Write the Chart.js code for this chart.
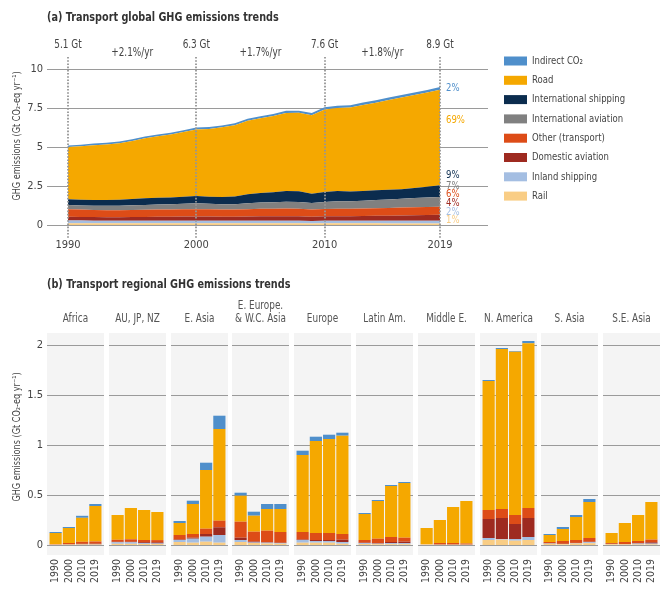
<!DOCTYPE html>
<html>
<head>
<meta charset="utf-8">
<script src="https://cdn.jsdelivr.net/npm/chart.js@4.4.1/dist/chart.umd.min.js"></script>
<style>
  body { margin: 0; background: #fff; }
  #wrap { position: relative; width: 671px; height: 594px; overflow: hidden; }
  #wrap canvas { position: absolute; }
</style>
</head>
<body>
<div id="wrap"></div>
<script>
// ---------- (a) global trends, Gt CO2-eq per year ----------
const years = [1990, 1991, 1992, 1993, 1994, 1995, 1996, 1997, 1998, 1999,
  2000, 2001, 2002, 2003, 2004, 2005, 2006, 2007, 2008, 2009,
  2010, 2011, 2012, 2013, 2014, 2015, 2016, 2017, 2018, 2019];

const rail = [0.12, 0.12, 0.12, 0.11, 0.11, 0.11, 0.11, 0.11, 0.11, 0.11,
  0.11, 0.11, 0.11, 0.11, 0.11, 0.11, 0.11, 0.11, 0.11, 0.10,
  0.11, 0.11, 0.11, 0.11, 0.11, 0.10, 0.10, 0.10, 0.10, 0.10];
const inlandShipping = [0.17, 0.17, 0.16, 0.16, 0.16, 0.16, 0.16, 0.16, 0.16, 0.16,
  0.16, 0.16, 0.16, 0.16, 0.17, 0.17, 0.17, 0.17, 0.17, 0.16,
  0.17, 0.17, 0.17, 0.17, 0.17, 0.18, 0.18, 0.18, 0.18, 0.18];
const domesticAviation = [0.24, 0.23, 0.23, 0.23, 0.23, 0.24, 0.25, 0.26, 0.26, 0.27,
  0.28, 0.27, 0.26, 0.26, 0.27, 0.28, 0.28, 0.29, 0.28, 0.27,
  0.28, 0.29, 0.29, 0.30, 0.31, 0.32, 0.34, 0.35, 0.37, 0.38];
const otherTransport = [0.48, 0.47, 0.46, 0.45, 0.45, 0.46, 0.46, 0.47, 0.47, 0.47,
  0.47, 0.47, 0.46, 0.46, 0.47, 0.48, 0.48, 0.49, 0.48, 0.46,
  0.47, 0.48, 0.48, 0.48, 0.49, 0.50, 0.50, 0.51, 0.51, 0.52];
const intlAviation = [0.28, 0.27, 0.27, 0.28, 0.29, 0.30, 0.31, 0.32, 0.33, 0.35,
  0.37, 0.35, 0.34, 0.35, 0.38, 0.40, 0.42, 0.44, 0.44, 0.42,
  0.45, 0.47, 0.48, 0.50, 0.52, 0.54, 0.56, 0.59, 0.61, 0.62];
const intlShipping = [0.36, 0.36, 0.36, 0.37, 0.38, 0.40, 0.42, 0.43, 0.44, 0.45,
  0.47, 0.46, 0.47, 0.49, 0.58, 0.62, 0.64, 0.68, 0.68, 0.59,
  0.64, 0.66, 0.62, 0.62, 0.63, 0.63, 0.62, 0.64, 0.69, 0.75];
const road = [3.35, 3.43, 3.52, 3.57, 3.63, 3.72, 3.86, 3.94, 4.04, 4.15,
  4.27, 4.34, 4.46, 4.57, 4.71, 4.79, 4.89, 5.00, 5.03, 5.04,
  5.29, 5.32, 5.38, 5.52, 5.61, 5.75, 5.87, 5.96, 6.03, 6.12];
const indirectCO2 = [0.10, 0.10, 0.10, 0.10, 0.10, 0.11, 0.11, 0.11, 0.11, 0.12,
  0.12, 0.12, 0.12, 0.12, 0.13, 0.13, 0.13, 0.14, 0.14, 0.14,
  0.14, 0.15, 0.15, 0.15, 0.16, 0.16, 0.16, 0.17, 0.17, 0.18];

const markYears = [1990, 2000, 2010, 2019];
const totalLabels = ['5.1 Gt', '6.3 Gt', '7.6 Gt', '8.9 Gt'];
const rateLabels = ['+2.1%/yr', '+1.7%/yr', '+1.8%/yr'];
const yTicksA = [0, 2.5, 5, 7.5, 10];
// shares in 2019, top to bottom, and where they sit on the value axis
const shareLabels = ['2%', '69%', '9%', '7%', '6%', '4%', '2%', '1%'];
const shareAt = [8.78, 6.73, 3.21, 2.50, 1.99, 1.41, 0.83, 0.32];

// ---------- (b) regional trends ----------
const regions = [['Africa'], ['AU, JP, NZ'], ['E. Asia'], ['E. Europe.', '& W.C. Asia'], ['Europe'],
  ['Latin Am.'], ['Middle E.'], ['N. America'], ['S. Asia'], ['S.E. Asia']];
const regYears = ['1990', '2000', '2010', '2019'];
const yTicksB = [0, 0.5, 1, 1.5, 2];

// one row per region: 1990, 2000, 2010, 2019
const regRail = [
  [0.005, 0.005, 0.005, 0.005], [0.012, 0.012, 0.010, 0.010], [0.030, 0.023, 0.033, 0.023],
  [0.030, 0.020, 0.015, 0.013], [0.023, 0.023, 0.023, 0.013], [0.010, 0.008, 0.008, 0.008],
  [0.008, 0.003, 0.003, 0.003], [0.050, 0.053, 0.043, 0.050], [0.012, 0.008, 0.015, 0.018],
  [0.008, 0.006, 0.006, 0.006]];
const regInland = [
  [0.000, 0.000, 0.002, 0.002], [0.015, 0.015, 0.008, 0.005], [0.020, 0.040, 0.050, 0.077],
  [0.020, 0.005, 0.008, 0.006], [0.027, 0.017, 0.017, 0.017], [0.008, 0.005, 0.010, 0.010],
  [0.000, 0.000, 0.000, 0.000], [0.020, 0.007, 0.017, 0.030], [0.003, 0.002, 0.003, 0.010],
  [0.002, 0.002, 0.008, 0.008]];
const regDomAviation = [
  [0.000, 0.003, 0.005, 0.006], [0.005, 0.005, 0.010, 0.012], [0.005, 0.010, 0.027, 0.077],
  [0.023, 0.010, 0.004, 0.004], [0.005, 0.010, 0.010, 0.023], [0.005, 0.004, 0.012, 0.015],
  [0.000, 0.002, 0.002, 0.002], [0.190, 0.210, 0.150, 0.190], [0.003, 0.002, 0.003, 0.005],
  [0.002, 0.002, 0.004, 0.013]];
const regOther = [
  [0.005, 0.012, 0.020, 0.022], [0.020, 0.025, 0.022, 0.022], [0.045, 0.037, 0.053, 0.066],
  [0.160, 0.098, 0.116, 0.107], [0.075, 0.070, 0.070, 0.057], [0.027, 0.046, 0.050, 0.040],
  [0.002, 0.015, 0.015, 0.010], [0.090, 0.090, 0.090, 0.100], [0.012, 0.028, 0.029, 0.037],
  [0.008, 0.020, 0.022, 0.027]];
const regRoad = [
  [0.110, 0.150, 0.240, 0.355], [0.248, 0.313, 0.300, 0.281], [0.120, 0.300, 0.587, 0.917],
  [0.260, 0.160, 0.217, 0.230], [0.770, 0.920, 0.940, 0.983], [0.260, 0.377, 0.510, 0.547],
  [0.160, 0.230, 0.360, 0.425], [1.290, 1.600, 1.633, 1.647], [0.070, 0.120, 0.230, 0.360],
  [0.100, 0.190, 0.260, 0.376]];
const regIndirect = [
  [0.010, 0.010, 0.020, 0.020], [0.000, 0.000, 0.000, 0.000], [0.020, 0.033, 0.073, 0.133],
  [0.030, 0.040, 0.050, 0.050], [0.043, 0.043, 0.043, 0.030], [0.010, 0.010, 0.010, 0.010],
  [0.000, 0.000, 0.000, 0.000], [0.010, 0.010, 0.007, 0.023], [0.010, 0.020, 0.020, 0.030],
  [0.000, 0.000, 0.000, 0.000]];

// ---------- styling ----------
const FONT = "'Liberation Sans Narrow', 'DejaVu Sans Condensed', 'Roboto Condensed', sans-serif";
const TXT = '#444';
const SQUEEZE = 0.86; // the original uses a condensed face
const colors = {
  indirect: '#4f8fcb', road: '#f5a800', ship: '#0b2c4e', intlAv: '#808080',
  other: '#dd4c17', domAv: '#9e2a20', inland: '#a4bee2', rail: '#f9cd85'
};
Chart.defaults.font.family = FONT;
Chart.defaults.color = TXT;

const wrap = document.getElementById('wrap');

function addCanvas(left, top, width, height) {
  const c = document.createElement('canvas');
  c.width = width;
  c.height = height;
  c.style.left = left + 'px';
  c.style.top = top + 'px';
  wrap.appendChild(c);
  return c;
}

function text(ctx, str, x, y, size, color, align, weight) {
  ctx.save();
  ctx.translate(x, y);
  ctx.scale(SQUEEZE, 1);
  ctx.font = (weight || 'normal') + ' ' + size + 'px ' + FONT;
  ctx.fillStyle = color;
  ctx.textAlign = align || 'center';
  ctx.textBaseline = 'middle';
  ctx.fillText(str, 0, 0);
  ctx.restore();
}

function yTitle(ctx, x, y) {
  ctx.save();
  ctx.translate(x, y);
  ctx.rotate(-Math.PI / 2);
  text(ctx, 'GHG emissions (Gt CO\u2082-eq yr\u207B\u00B9)', 0, 0, 10.5, TXT);
  ctx.restore();
}

// stacked bottom -> top
const globalSeries = [
  ['Rail', rail, colors.rail],
  ['Inland shipping', inlandShipping, colors.inland],
  ['Domestic aviation', domesticAviation, colors.domAv],
  ['Other (transport)', otherTransport, colors.other],
  ['International aviation', intlAviation, colors.intlAv],
  ['International shipping', intlShipping, colors.ship],
  ['Road', road, colors.road],
  ['Indirect CO\u2082', indirectCO2, colors.indirect]
];

const topDecor = {
  id: 'topDecor',
  afterDatasetsDraw(chart) {
    const { ctx, chartArea: a, scales: { x, y } } = chart;
    ctx.save();
    // dotted year markers
    ctx.strokeStyle = '#959595';
    ctx.lineWidth = 1.8;
    ctx.setLineDash([1.6, 1.6]);
    markYears.forEach(yr => {
      const px = Math.round(x.getPixelForValue(yr));
      ctx.beginPath();
      ctx.moveTo(px, a.top);
      ctx.lineTo(px, a.bottom);
      ctx.stroke();
    });
    ctx.setLineDash([]);

    markYears.forEach((yr, i) => text(ctx, totalLabels[i], x.getPixelForValue(yr), 45, 11.5, TXT));
    rateLabels.forEach((lab, i) => {
      const mid = (x.getPixelForValue(markYears[i]) + x.getPixelForValue(markYears[i + 1])) / 2;
      text(ctx, lab, mid, 53, 11.5, TXT);
    });

    // 2019 shares
    const shareColors = globalSeries.map(s => s[2]).reverse();
    shareLabels.forEach((lab, i) => {
      text(ctx, lab, x.getPixelForValue(2019) + 6, y.getPixelForValue(shareAt[i]), 11, shareColors[i], 'left');
    });

    // legend, top to bottom
    const items = chart.data.datasets.slice().reverse();
    items.forEach((ds, i) => {
      const cy = 61 + i * 19.3;
      ctx.fillStyle = ds.backgroundColor;
      ctx.fillRect(504, cy - 4.5, 23, 9);
      text(ctx, ds.label, 532, cy, 11, TXT, 'left');
    });

    text(ctx, '(a) Transport global GHG emissions trends', 47, 18, 12.5, '#333', 'left', 'bold');
    text(ctx, '(b) Transport regional GHG emissions trends', 47, 285, 12.5, '#333', 'left', 'bold');
    yTitle(ctx, 17, 136);
    ctx.restore();
  }
};

const topCanvas = addCanvas(0, 0, 671, 295);
new Chart(topCanvas, {
  type: 'line',
  data: {
    datasets: globalSeries.map(([label, vals, color], i) => ({
      label,
      data: vals.map((v, k) => ({ x: years[k], y: v })),
      backgroundColor: color,
      borderColor: 'transparent',
      borderWidth: 0,
      pointRadius: 0,
      tension: 0,
      fill: i === 0 ? 'origin' : '-1'
    }))
  },
  options: {
    responsive: false,
    animation: false,
    layout: { autoPadding: false, padding: { top: 57, right: 183, left: 0, bottom: 0 } },
    plugins: { legend: { display: false }, tooltip: { enabled: false } },
    scales: {
      x: {
        type: 'linear', min: 1988.36, max: 2022.74,
        grid: { display: false, drawTicks: false },
        border: { display: false },
        afterBuildTicks: s => { s.ticks = markYears.map(v => ({ value: v })); },
        ticks: { callback: v => String(v), font: { size: 11 }, color: TXT, padding: 1, maxRotation: 0, autoSkip: false },
        afterFit: s => { s.height = 295 - 238; }
      },
      y: {
        stacked: true, min: -0.83, max: 10.77,
        grid: { color: '#9a9a9a', lineWidth: 1, drawTicks: false },
        border: { display: false },
        afterBuildTicks: s => { s.ticks = yTicksA.map(v => ({ value: v })); },
        ticks: { callback: v => String(v), font: { size: 11 }, color: TXT, padding: 4 },
        afterFit: s => { s.width = 47; }
      }
    }
  },
  plugins: [topDecor]
});

// ---------- regional small multiples ----------
const regSeries = [
  ['Rail', regRail, colors.rail],
  ['Inland shipping', regInland, colors.inland],
  ['Domestic aviation', regDomAviation, colors.domAv],
  ['Other (transport)', regOther, colors.other],
  ['Road', regRoad, colors.road],
  ['Indirect CO\u2082', regIndirect, colors.indirect]
];

function panelDecor(name, first) {
  return {
    id: 'panelDecor',
    beforeDatasetsDraw(chart) {
      const { ctx, chartArea: a, scales: { y } } = chart;
      ctx.save();
      ctx.fillStyle = '#f4f4f4';
      ctx.fillRect(a.left - 2, a.top, a.right - a.left + 4, a.bottom - a.top);
      ctx.strokeStyle = '#9a9a9a';
      ctx.lineWidth = 1;
      yTicksB.forEach(v => {
        const py = Math.round(y.getPixelForValue(v)) + 0.5;
        ctx.beginPath();
        ctx.moveTo(a.left - 2, py);
        ctx.lineTo(a.right + 2, py);
        ctx.stroke();
      });
      ctx.restore();
    },
    afterDraw(chart) {
      const { ctx, chartArea: a } = chart;
      const cx = (a.left + a.right) / 2;
      ctx.save();
      if (name.length === 2) {
        text(ctx, name[0], cx, 11, 11.5, '#555');
        text(ctx, name[1], cx, 24, 11.5, '#555');
      } else {
        text(ctx, name[0], cx, 24, 11.5, '#555');
      }
      if (first) yTitle(ctx, 17, 142);
      ctx.restore();
    }
  };
}

regions.forEach((name, r) => {
  const first = r === 0;
  const left = Math.round(47 + r * 61.8);
  const cv = addCanvas(first ? 0 : left, 295, first ? left + 57 : 57, 299);
  new Chart(cv, {
    type: 'bar',
    data: {
      labels: regYears,
      datasets: regSeries.map(([label, vals, color]) => ({
        label,
        data: vals[r],
        backgroundColor: color,
        borderWidth: 0,
        barPercentage: 0.92,
        categoryPercentage: 1
      }))
    },
    options: {
      responsive: false,
      animation: false,
      layout: { autoPadding: false, padding: { top: 38, left: 2, right: 2, bottom: 0 } },
      plugins: { legend: { display: false }, tooltip: { enabled: false } },
      scales: {
        x: {
          stacked: true,
          grid: { display: false, drawTicks: false },
          border: { display: false },
          ticks: { autoSkip: false, minRotation: 90, maxRotation: 90, font: { size: 10.5 }, color: TXT, padding: 4 },
          afterFit: s => { s.height = 39; s.paddingLeft = 0; s.paddingRight = 0; }
        },
        y: {
          stacked: true, display: first, min: -0.1, max: 2.12,
          grid: { display: false, drawTicks: false },
          border: { display: false },
          afterBuildTicks: s => { s.ticks = yTicksB.map(v => ({ value: v })); },
          ticks: { callback: v => String(v), font: { size: 11 }, color: TXT, padding: 6 },
          afterFit: s => { s.width = first ? 47 : 0; }
        }
      }
    },
    plugins: [panelDecor(name, first)]
  });
});
</script>
</body>
</html>
